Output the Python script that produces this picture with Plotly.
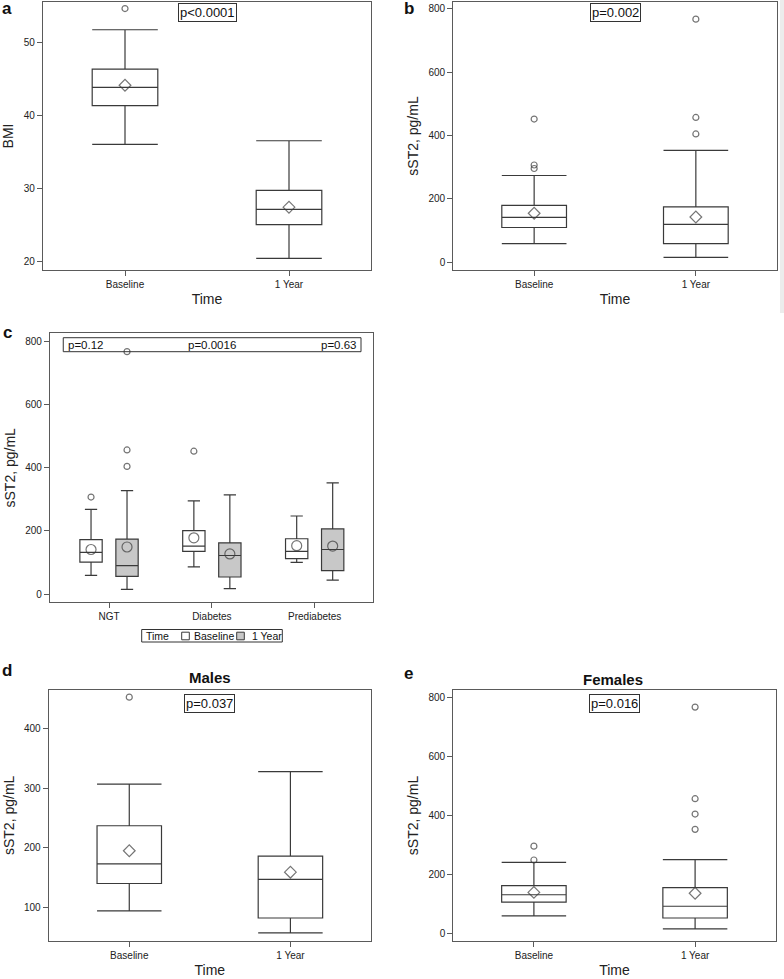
import plotly.graph_objects as go

# ---------------- data ----------------
times = ["Baseline", "1 Year"]

# Panel a: BMI
bmi_q1 = [41.4, 25.1]
bmi_med = [43.9, 27.2]
bmi_q3 = [46.4, 29.8]
bmi_lo = [36.1, 20.5]
bmi_hi = [51.8, 36.6]
bmi_mean = [44.2, 27.5]
bmi_out_x = ["Baseline"]
bmi_out_y = [54.7]

# Panel b: sST2 all
st_q1 = [110, 59]
st_med = [142, 120]
st_q3 = [180, 175]
st_lo = [59, 16]
st_hi = [274, 353]
st_mean = [155, 143]
st_out_x = ["Baseline", "Baseline", "Baseline", "1 Year", "1 Year", "1 Year"]
st_out_y = [452, 307, 296, 767, 457, 405]

# Panel c: sST2 by glycemic group
groups = ["NGT", "Diabetes", "Prediabetes"]
c_base_q1 = [101, 135, 112]
c_base_med = [132, 152, 135]
c_base_q3 = [172, 201, 175]
c_base_lo = [59, 86, 100]
c_base_hi = [268, 295, 247]
c_base_mean = [141, 178, 153]
c_base_out_x = ["NGT", "Diabetes"]
c_base_out_y = [307, 452]

c_yr_q1 = [56, 54, 74]
c_yr_med = [90, 122, 141]
c_yr_q3 = [174, 162, 206]
c_yr_lo = [15, 17, 44]
c_yr_hi = [327, 314, 352]
c_yr_mean = [149, 127, 152]
c_yr_out_x = ["NGT", "NGT", "NGT"]
c_yr_out_y = [767, 456, 404]

c_pvals = ["p=0.12", "p=0.0016", "p=0.63"]
legend_title = "Time"

# Panel d: Males
m_q1 = [140, 82]
m_med = [173, 147]
m_q3 = [237, 186]
m_lo = [94, 57]
m_hi = [307, 328]
m_mean = [195, 159]
m_out_x = ["Baseline"]
m_out_y = [453]

# Panel e: Females
f_q1 = [106, 52]
f_med = [131, 92]
f_q3 = [162, 155]
f_lo = [59, 15]
f_hi = [241, 250]
f_mean = [139, 136]
f_out_x = ["Baseline", "Baseline", "1 Year", "1 Year", "1 Year", "1 Year"]
f_out_y = [296, 249, 768, 457, 405, 353]

p_values = {"a": "p<0.0001", "b": "p=0.002", "d": "p=0.037", "e": "p=0.016"}

# ---------------- styling ----------------
FONT = "Liberation Sans, Arial, sans-serif"
LINE = "#3a3a3a"
FRAME = "#5a5a5a"
GRAY_FILL = "#c8c8c8"
W, H = 784, 979

fig = go.Figure()


def add_simple_panel(ax, q1, med, q3, lo, hi, mean, out_x, out_y):
    xa = "x" if ax == 1 else f"x{ax}"
    ya = "y" if ax == 1 else f"y{ax}"
    fig.add_trace(go.Box(
        x=times, q1=q1, median=med, q3=q3, lowerfence=lo, upperfence=hi,
        fillcolor="white", line=dict(color=LINE, width=1.2), width=0.4,
        whiskerwidth=1, boxpoints=False, showlegend=False,
        xaxis=xa, yaxis=ya, hoverinfo="skip"))
    sx = list(times) + list(out_x)
    sy = list(mean) + list(out_y)
    sym = ["diamond-open"] * len(mean) + ["circle-open"] * len(out_y)
    siz = [9] * len(mean) + [6] * len(out_y)
    fig.add_trace(go.Scatter(
        x=sx, y=sy, mode="markers", offsetgroup="s",
        marker=dict(symbol=sym, size=siz, color=LINE, line=dict(width=1.2, color=LINE)),
        showlegend=False, xaxis=xa, yaxis=ya, hoverinfo="skip"))


add_simple_panel(1, bmi_q1, bmi_med, bmi_q3, bmi_lo, bmi_hi, bmi_mean, bmi_out_x, bmi_out_y)
add_simple_panel(2, st_q1, st_med, st_q3, st_lo, st_hi, st_mean, st_out_x, st_out_y)
add_simple_panel(4, m_q1, m_med, m_q3, m_lo, m_hi, m_mean, m_out_x, m_out_y)
add_simple_panel(5, f_q1, f_med, f_q3, f_lo, f_hi, f_mean, f_out_x, f_out_y)

# Panel c grouped
for name, fill, q1, med, q3, lo, hi, mean, ox, oy, grp in [
    ("Baseline", "white", c_base_q1, c_base_med, c_base_q3, c_base_lo, c_base_hi,
     c_base_mean, c_base_out_x, c_base_out_y, "g1"),
    ("1 Year", GRAY_FILL, c_yr_q1, c_yr_med, c_yr_q3, c_yr_lo, c_yr_hi,
     c_yr_mean, c_yr_out_x, c_yr_out_y, "g2"),
]:
    fig.add_trace(go.Box(
        name=name, x=groups, q1=q1, median=med, q3=q3, lowerfence=lo, upperfence=hi,
        fillcolor=fill, line=dict(color=LINE, width=1.2), whiskerwidth=0.55,
        boxpoints=False, offsetgroup=grp, showlegend=False,
        xaxis="x3", yaxis="y3", hoverinfo="skip"))
    sx = list(groups) + list(ox)
    sy = list(mean) + list(oy)
    siz = [10] * len(mean) + [6] * len(oy)
    fig.add_trace(go.Scatter(
        x=sx, y=sy, mode="markers", offsetgroup=grp,
        marker=dict(symbol="circle-open", size=siz, color=LINE, line=dict(width=1.2, color=LINE)),
        showlegend=False, xaxis="x3", yaxis="y3", hoverinfo="skip"))


def px_x(a, b):
    return [a / W, b / W]


def px_y(top, bottom):
    return [1 - bottom / H, 1 - top / H]


axis_common = dict(showline=True, linecolor=FRAME, linewidth=1.2, mirror=True,
                   ticks="outside", ticklen=5, tickcolor=FRAME, showgrid=False,
                   zeroline=False, tickfont=dict(family=FONT, size=10, color="#222"))

title_font = dict(family=FONT, size=14, color="#222")

layout_axes = {}
specs = {
    1: dict(dx=px_x(43, 371), dy=px_y(2, 270), yr=[18.9, 55.6], dt=10, yt="BMI", xt="Time",
            cats=times, xr=[-0.5, 1.5]),
    2: dict(dx=px_x(453.3, 776.7), dy=px_y(2, 270), yr=[-24, 821], dt=200, yt="sST2, pg/mL",
            xt="Time", cats=times, xr=[-0.5, 1.5]),
    3: dict(dx=px_x(50, 373.3), dy=px_y(333.3, 602.3), yr=[-26, 825], dt=200, yt="sST2, pg/mL",
            xt=None, cats=groups, xr=[-0.574, 2.57]),
    4: dict(dx=px_x(48.7, 371), dy=px_y(690, 940.7), yr=[43.9, 465], dt=100, yt="sST2, pg/mL",
            xt="Time", cats=times, xr=[-0.5, 1.5]),
    5: dict(dx=px_x(453.3, 775.7), dy=px_y(690, 941), yr=[-26, 826], dt=200, yt="sST2, pg/mL",
            xt="Time", cats=times, xr=[-0.5, 1.5]),
}
for i, s in specs.items():
    xk = "xaxis" if i == 1 else f"xaxis{i}"
    yk = "yaxis" if i == 1 else f"yaxis{i}"
    ya_id = "y" if i == 1 else f"y{i}"
    xa_id = "x" if i == 1 else f"x{i}"
    layout_axes[xk] = dict(axis_common, domain=s["dx"], anchor=ya_id, type="category",
                           categoryorder="array", categoryarray=s["cats"], range=s["xr"],
                           title=dict(text=s["xt"], font=dict(family=FONT, size=14, color="#222"),
                                      standoff=5) if s["xt"] else None)
    layout_axes[yk] = dict(axis_common, domain=s["dy"], anchor=xa_id, range=s["yr"], dtick=s["dt"],
                           title=dict(text=s["yt"], font=title_font, standoff=6))

fig.update_layout(**layout_axes)

annotations = []
# panel letters
for letter, x, y in [("a", 7, 8), ("b", 408.5, 8), ("c", 7, 332), ("d", 7, 670), ("e", 408.5, 673)]:
    annotations.append(dict(text=f"<b>{letter}</b>", x=x / W, y=1 - y / H, xref="paper", yref="paper",
                            xanchor="center", yanchor="middle",
                            showarrow=False, font=dict(family=FONT, size=17, color="#111")))

# panel titles
annotations.append(dict(text="<b>Males</b>", x=210 / W, y=1 - 677 / H, xref="paper", yref="paper",
                        xanchor="center", yanchor="middle",
                        showarrow=False, font=dict(family=FONT, size=15, color="#111")))
annotations.append(dict(text="<b>Females</b>", x=613.3 / W, y=1 - 679 / H, xref="paper", yref="paper",
                        xanchor="center", yanchor="middle",
                        showarrow=False, font=dict(family=FONT, size=15, color="#111")))

# p-value boxes
for key, ax, yfrac in [("a", "", 0.959), ("b", "2", 0.959), ("d", "4", 0.948), ("e", "5", 0.948)]:
    annotations.append(dict(text=p_values[key], x=0.5, y=yfrac, xref=f"x{ax} domain",
                            yref=f"y{ax} domain", xanchor="center", yanchor="middle",
                            showarrow=False, bordercolor="#333",
                            borderwidth=1, borderpad=1, bgcolor="white",
                            font=dict(family=FONT, size=13, color="#111")))

# panel c p-value strip
for txt, xf, anc in [(c_pvals[0], 0.05, "left"), (c_pvals[1], 0.5, "center"), (c_pvals[2], 0.956, "right")]:
    annotations.append(dict(text=txt, x=xf, y=0.958, xref="x3 domain", yref="y3 domain",
                            xanchor=anc, yanchor="middle", showarrow=False,
                            font=dict(family=FONT, size=11.5, color="#111")))

shapes = [
    dict(type="rect", xref="x3 domain", yref="y3 domain", x0=0.041, x1=0.962, y0=0.9316, y1=0.9836,
         line=dict(color="#333", width=1), fillcolor="rgba(0,0,0,0)"),
    dict(type="rect", xref="paper", yref="paper", x0=780 / W, x1=1, y0=1 - 313 / H, y1=1,
         line=dict(width=0), fillcolor="#ececec"),
]

# manual legend for panel c (box frame, swatches, labels)
LEG_Y = 1 - 636 / H
shapes.append(dict(type="rect", xref="paper", yref="paper", x0=141.7 / W, x1=282.3 / W,
                   y0=1 - 642 / H, y1=1 - 629.5 / H, line=dict(color="#333", width=1),
                   fillcolor="white"))
shapes.append(dict(type="rect", xref="paper", yref="paper", x0=181.7 / W, x1=189.3 / W,
                   y0=1 - 639.8 / H, y1=1 - 632.2 / H, line=dict(color=LINE, width=1), fillcolor="white"))
shapes.append(dict(type="rect", xref="paper", yref="paper", x0=236.7 / W, x1=244.3 / W,
                   y0=1 - 639.8 / H, y1=1 - 632.2 / H, line=dict(color=LINE, width=1), fillcolor=GRAY_FILL))
for txt, x in [(legend_title, 144), (times[0], 191.5), (times[1], 249.5)]:
    annotations.append(dict(text=txt, x=x / W, y=LEG_Y, xref="paper", yref="paper",
                            xanchor="left", yanchor="middle", showarrow=False,
                            font=dict(family=FONT, size=10.5, color="#111")))

fig.update_layout(
    width=W, height=H, margin=dict(l=0, r=0, t=0, b=0),
    paper_bgcolor="white", plot_bgcolor="white",
    boxmode="group", boxgap=0.3, boxgroupgap=0.38,
    scattermode="group", scattergap=0.3,
    annotations=annotations, shapes=shapes,
    font=dict(family=FONT, color="#222"),
    showlegend=False,
)

fig.write_html("out.html", config={"displayModeBar": False},
               post_script="document.body.style.margin='0px';")
